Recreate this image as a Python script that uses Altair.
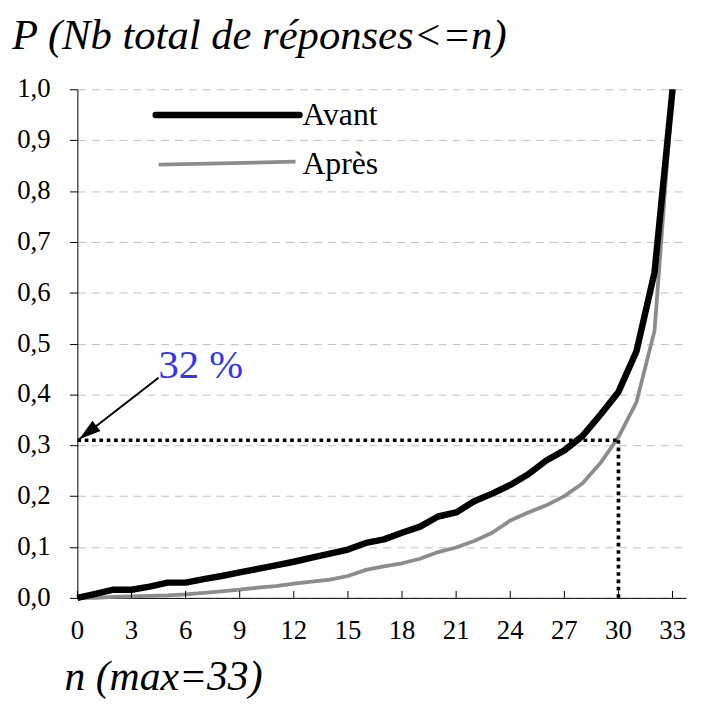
import math
import altair as alt
import pandas as pd

# ---------------- data ----------------
series = ["Avant", "Après"]
n_values = list(range(34))
avant = [0.000, 0.008, 0.016, 0.016, 0.022, 0.030, 0.030, 0.037, 0.043, 0.050,
         0.057, 0.064, 0.071, 0.079, 0.087, 0.095, 0.108, 0.115, 0.128, 0.140,
         0.160, 0.168, 0.190, 0.205, 0.222, 0.243, 0.270, 0.290, 0.318, 0.360,
         0.405, 0.485, 0.640, 1.000]
apres = [0.000, 0.000, 0.002, 0.003, 0.004, 0.005, 0.007, 0.010, 0.013, 0.016,
         0.020, 0.023, 0.028, 0.032, 0.036, 0.043, 0.055, 0.062, 0.068, 0.077,
         0.090, 0.099, 0.112, 0.128, 0.152, 0.168, 0.182, 0.200, 0.225, 0.265,
         0.316, 0.385, 0.525, 1.000]

x_ticks = [0, 3, 6, 9, 12, 15, 18, 21, 24, 27, 30, 33]
y_ticks = [0.0, 0.1, 0.2, 0.3, 0.4, 0.5, 0.6, 0.7, 0.8, 0.9, 1.0]

ref_n = [30]
ref_p = [0.31]
annot_text = ["32 %"]
annot_n = [4.5]
annot_p = [0.455]
arrow_from = [4.5, 0.433]
arrow_to = [0.1, 0.312]

title_txt = "P (Nb total de réponses<=n)"
x_title = "n (max=33)"

# ---------------- layout ----------------
W, H = 614, 513
XMAX = 33.75
FONT = "Liberation Serif"
xs = alt.Scale(domain=[0, XMAX], nice=False, zero=False)
ys = alt.Scale(domain=[0, 1], nice=False)

df_lines = pd.DataFrame({
    "n": n_values + n_values,
    "p": apres + avant,
    "serie": [series[1]] * len(n_values) + [series[0]] * len(n_values),
})

x_axis = alt.Axis(values=x_ticks, title=None, grid=False, ticks=False, labels=False,
                  domainColor="black", domainWidth=1)
y_axis = alt.Axis(values=y_ticks, title=None, grid=True, gridDash=[8, 6],
                  gridColor="#c0c0c0", gridWidth=1, tickColor="black",
                  tickSize=8, domainColor="black", domainWidth=1, labels=False)

lines = alt.Chart(df_lines).mark_line(strokeJoin="round").encode(
    x=alt.X("n:Q", scale=xs, axis=x_axis),
    y=alt.Y("p:Q", scale=ys, axis=y_axis),
    color=alt.Color("serie:N", scale=alt.Scale(domain=[series[1], series[0]],
                                               range=["#8c8c8c", "black"]), legend=None),
    strokeWidth=alt.StrokeWidth("serie:N", scale=alt.Scale(domain=[series[1], series[0]],
                                                           range=[3.8, 6.5]), legend=None),
    detail="serie:N",
)

# inward x ticks
df_xt = pd.DataFrame({"n": x_ticks, "lab": [str(v) for v in x_ticks]})
ticks = alt.Chart(df_xt).mark_rule(color="black", strokeWidth=1).encode(
    x=alt.X("n:Q", scale=xs),
    y=alt.value(H), y2=alt.value(H - 7),
)
x_labels = alt.Chart(df_xt).mark_text(
    align="center", baseline="middle", font=FONT, fontSize=27, color="black",
).encode(
    x=alt.X("n:Q", scale=xs),
    y=alt.value(H + 33),
    text="lab:N",
)

df_yt = pd.DataFrame({"p": y_ticks,
                      "lab": [f"{v:.1f}".replace(".", ",") for v in y_ticks]})
y_labels = alt.Chart(df_yt).mark_text(
    align="right", baseline="middle", font=FONT, fontSize=27, color="black",
).encode(
    x=alt.value(-27),
    y=alt.Y("p:Q", scale=ys),
    text="lab:N",
)

x_title_mark = alt.Chart(pd.DataFrame({"t": [x_title]})).mark_text(
    align="left", baseline="middle", font=FONT, fontSize=42, fontStyle="italic",
    color="black",
).encode(x=alt.value(-13), y=alt.value(H + 80), text="t:N")

# dotted reference lines
df_ref = pd.DataFrame({"n": ref_n, "p": ref_p, "zero": [0]})
dot = dict(color="black", strokeWidth=3.7, strokeDash=[3.7, 3.7], strokeCap="butt")
ref_h = alt.Chart(df_ref).mark_rule(**dot).encode(
    x=alt.X("zero:Q", scale=xs), x2="n:Q",
    y=alt.Y("p:Q", scale=ys),
)
ref_v = alt.Chart(df_ref).mark_rule(**dot).encode(
    x=alt.X("n:Q", scale=xs),
    y=alt.Y("zero:Q", scale=ys), y2="p:Q",
)

# arrow
df_arrow = pd.DataFrame({"n": [arrow_from[0]], "p": [arrow_from[1]],
                         "n1": [arrow_to[0]], "p1": [arrow_to[1]]})
arrow_line = alt.Chart(df_arrow).mark_rule(color="black", strokeWidth=2).encode(
    x=alt.X("n:Q", scale=xs), x2="n1:Q",
    y=alt.Y("p:Q", scale=ys), y2="p1:Q",
)
dx = (arrow_to[0] - arrow_from[0]) * W / XMAX
dy = -(arrow_to[1] - arrow_from[1]) * H
ang = (math.degrees(math.atan2(dx, -dy)) + 360) % 360
df_tip = pd.DataFrame({"n": [arrow_to[0]], "p": [arrow_to[1]]})
arrow_head = alt.Chart(df_tip).mark_point(
    shape="M0,0L-0.6,2L0.6,2Z", filled=True, size=484, angle=ang,
    color="black", opacity=1, strokeWidth=0,
).encode(
    x=alt.X("n:Q", scale=xs),
    y=alt.Y("p:Q", scale=ys),
)

annot = alt.Chart(pd.DataFrame({"n": annot_n, "p": annot_p, "t": annot_text})).mark_text(
    align="left", baseline="middle", font=FONT, fontSize=41, color="#3535f0",
).encode(
    x=alt.X("n:Q", scale=xs),
    y=alt.Y("p:Q", scale=ys),
    text="t:N",
)

# manual legend
leg_av_line = alt.Chart(pd.DataFrame({"s": [series[0]]})).mark_rule(
    color="black", strokeWidth=6.5, strokeCap="round").encode(
    x=alt.value(79), x2=alt.value(224), y=alt.value(26))
leg_ap_line = alt.Chart(pd.DataFrame({"s": [series[1]]})).mark_rule(
    color="#8c8c8c", strokeWidth=3.8).encode(
    x=alt.value(82), x2=alt.value(220), y=alt.value(76), y2=alt.value(73))
leg_av_txt = alt.Chart(pd.DataFrame({"s": [series[0]]})).mark_text(
    align="left", baseline="middle", font=FONT, fontSize=32, color="black").encode(
    x=alt.value(227), y=alt.value(26), text="s:N")
leg_ap_txt = alt.Chart(pd.DataFrame({"s": [series[1]]})).mark_text(
    align="left", baseline="middle", font=FONT, fontSize=32, color="black").encode(
    x=alt.value(227), y=alt.value(75), text="s:N")

chart = alt.layer(
    lines, ticks, x_labels, y_labels, x_title_mark, ref_h, ref_v, arrow_line,
    arrow_head, annot, leg_av_line, leg_ap_line, leg_av_txt, leg_ap_txt,
).properties(
    width=W, height=H,
    autosize="none",
    padding={"left": 70, "top": 79, "right": 10, "bottom": 99},
    title=alt.TitleParams(title_txt, anchor="start", frame="group", dx=-66, dy=5,
                          offset=23, font=FONT, fontSize=43, fontStyle="italic",
                          fontWeight="normal", color="black"),
).configure(font=FONT).configure_view(stroke=None)

chart.save("out.html", embed_options={"renderer": "svg", "actions": False})
